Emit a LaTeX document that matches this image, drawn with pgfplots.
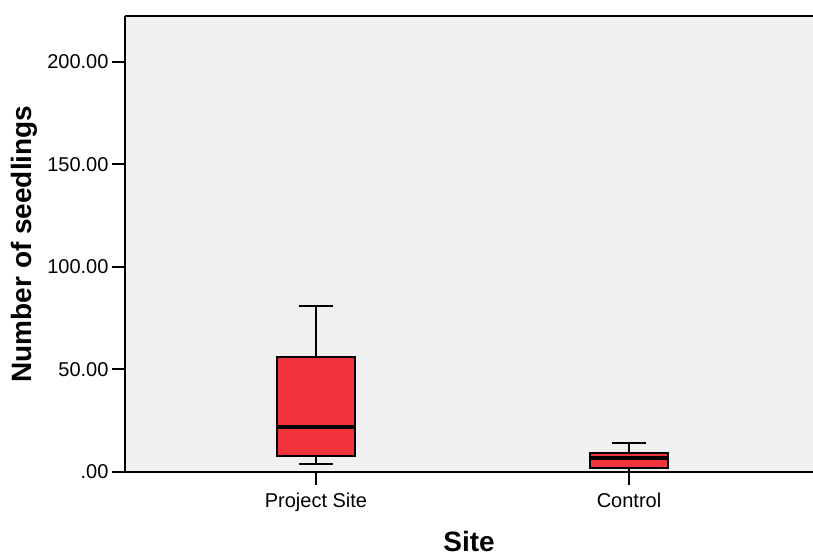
\documentclass[border=0pt]{standalone}
\usepackage{fontspec}
\setmainfont{Liberation Sans}
\usepackage{pgfplots}
\pgfplotsset{compat=1.18}
\usepgfplotslibrary{statistics}
\definecolor{plotbg}{RGB}{240,240,240}
\definecolor{boxred}{RGB}{241,51,59}
\begin{document}
\begin{tikzpicture}
\useasboundingbox (0pt,0pt) rectangle (813pt,555pt);
\begin{axis}[
  at={(125pt,83pt)}, anchor=south west,
  scale only axis, width=688pt, height=456pt,
  xmin=0.3898, xmax=2.5879, ymin=0, ymax=222.4,
  axis x line*=box, axis y line*=left,
  boxplot/draw direction=y,
  axis background/.style={fill=plotbg},
  axis line style={line width=1.8pt, black, -},
  xtick={1,2}, xticklabels={Project Site, Control},
  ytick={0,50,100,150,200}, yticklabels={.00,50.00,100.00,150.00,200.00},
  tick align=outside, xtick pos=bottom, ytick pos=left,
  major tick length=13pt,
  major tick style={line width=2pt, black},
  ticklabel style={font=\fontsize{20}{24}\selectfont},
  xticklabel style={yshift=-4pt},
  xlabel={Site}, ylabel={Number of seedlings},
  label style={font=\bfseries\fontsize{28}{33}\selectfont},
  xlabel style={at={(axis description cs:0.5,0)}, anchor=base, yshift=-79pt},
  ylabel style={at={(axis description cs:-0.1468,0.5)}, anchor=center},
]
% Project Site
\addplot[boxplot prepared={draw position=1, lower whisker=4, lower quartile=8,
  median=22, upper quartile=56, upper whisker=81, box extend=0.25, whisker extend=0.11},
  draw=black, line width=2.2pt, fill=boxred, boxplot/every median/.style={line width=4pt}]
  coordinates {};
% Control
\addplot[boxplot prepared={draw position=2, lower whisker=0, lower quartile=2,
  median=6.6, upper quartile=9.4, upper whisker=14, box extend=0.25, whisker extend=0.11},
  draw=black, line width=2.2pt, fill=boxred, boxplot/every median/.style={line width=4pt}]
  coordinates {};
\end{axis}
\end{tikzpicture}
\end{document}
